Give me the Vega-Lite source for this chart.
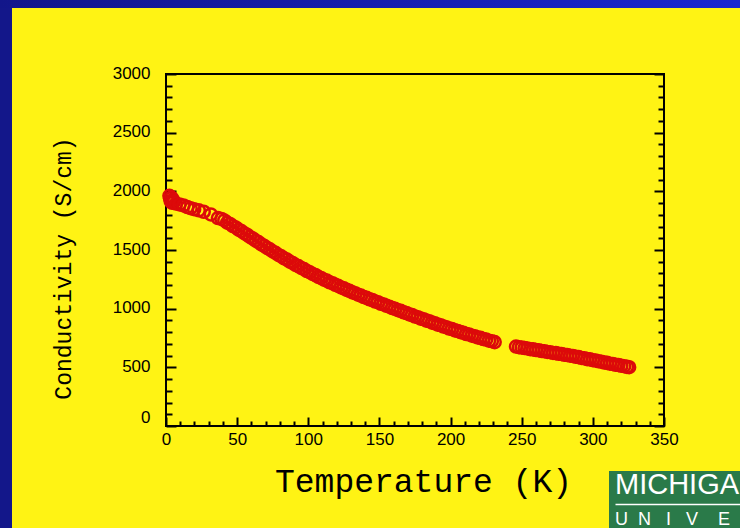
{
  "$schema": "https://vega.github.io/schema/vega-lite/v6.json",
  "background": "#fff314",
  "padding": 0,
  "autosize": {"type": "pad"},
  "config": {"view": {"stroke": null}},
  "datasets": {
    "conductivity": [
      {"T": 2.4, "sigma": 1962}, {"T": 2.9, "sigma": 1938}, {"T": 3.3, "sigma": 1915}, {"T": 3.8, "sigma": 1948},
      {"T": 4.3, "sigma": 1902}, {"T": 4.9, "sigma": 1928}, {"T": 5.6, "sigma": 1910}, {"T": 7.0, "sigma": 1896},
      {"T": 9.5, "sigma": 1888}, {"T": 12.3, "sigma": 1880}, {"T": 15.0, "sigma": 1866}, {"T": 17.3, "sigma": 1856},
      {"T": 19.8, "sigma": 1848}, {"T": 23.0, "sigma": 1838}, {"T": 26.5, "sigma": 1826}, {"T": 31.5, "sigma": 1803},
      {"T": 36.5, "sigma": 1772},
      {"T": 39, "sigma": 1765}, {"T": 41, "sigma": 1752}, {"T": 43, "sigma": 1734}, {"T": 45, "sigma": 1722},
      {"T": 47, "sigma": 1704}, {"T": 49, "sigma": 1692}, {"T": 51, "sigma": 1674}, {"T": 53, "sigma": 1661},
      {"T": 55, "sigma": 1643}, {"T": 57, "sigma": 1630}, {"T": 59, "sigma": 1611}, {"T": 61, "sigma": 1598},
      {"T": 63, "sigma": 1580}, {"T": 65, "sigma": 1567}, {"T": 67, "sigma": 1548}, {"T": 69, "sigma": 1536},
      {"T": 71, "sigma": 1518}, {"T": 73, "sigma": 1506}, {"T": 75, "sigma": 1488}, {"T": 77, "sigma": 1476},
      {"T": 79, "sigma": 1458}, {"T": 81, "sigma": 1446}, {"T": 83, "sigma": 1429}, {"T": 85, "sigma": 1418},
      {"T": 87, "sigma": 1401}, {"T": 89, "sigma": 1390}, {"T": 91, "sigma": 1373}, {"T": 93, "sigma": 1363},
      {"T": 95, "sigma": 1347}, {"T": 97, "sigma": 1337}, {"T": 99, "sigma": 1321}, {"T": 101, "sigma": 1311},
      {"T": 103, "sigma": 1296}, {"T": 105, "sigma": 1287}, {"T": 107, "sigma": 1271}, {"T": 109, "sigma": 1262},
      {"T": 111, "sigma": 1247}, {"T": 113, "sigma": 1239}, {"T": 115, "sigma": 1225}, {"T": 117, "sigma": 1217},
      {"T": 119, "sigma": 1203}, {"T": 121, "sigma": 1195}, {"T": 123, "sigma": 1181}, {"T": 125, "sigma": 1173},
      {"T": 127, "sigma": 1160}, {"T": 129, "sigma": 1152}, {"T": 131, "sigma": 1139}, {"T": 133, "sigma": 1132},
      {"T": 135, "sigma": 1119}, {"T": 137, "sigma": 1112}, {"T": 139, "sigma": 1099}, {"T": 141, "sigma": 1092},
      {"T": 143, "sigma": 1080}, {"T": 145, "sigma": 1074}, {"T": 147, "sigma": 1061}, {"T": 149, "sigma": 1055},
      {"T": 151, "sigma": 1042}, {"T": 153, "sigma": 1036}, {"T": 155, "sigma": 1024}, {"T": 157, "sigma": 1017},
      {"T": 159, "sigma": 1005}, {"T": 161, "sigma": 999}, {"T": 163, "sigma": 987}, {"T": 165, "sigma": 981},
      {"T": 167, "sigma": 969}, {"T": 169, "sigma": 963}, {"T": 171, "sigma": 951}, {"T": 173, "sigma": 945},
      {"T": 175, "sigma": 933}, {"T": 177, "sigma": 927}, {"T": 179, "sigma": 915}, {"T": 181, "sigma": 910},
      {"T": 183, "sigma": 898}, {"T": 185, "sigma": 893}, {"T": 187, "sigma": 881}, {"T": 189, "sigma": 875},
      {"T": 191, "sigma": 864}, {"T": 193, "sigma": 859}, {"T": 195, "sigma": 848}, {"T": 197, "sigma": 842},
      {"T": 199, "sigma": 831}, {"T": 201, "sigma": 826}, {"T": 203, "sigma": 815}, {"T": 205, "sigma": 810},
      {"T": 207, "sigma": 800}, {"T": 209, "sigma": 795}, {"T": 211, "sigma": 784}, {"T": 213, "sigma": 780},
      {"T": 215, "sigma": 770}, {"T": 217, "sigma": 765}, {"T": 219, "sigma": 755}, {"T": 221, "sigma": 751},
      {"T": 223, "sigma": 741}, {"T": 225, "sigma": 737}, {"T": 227, "sigma": 727}, {"T": 229, "sigma": 723},
      {"T": 231, "sigma": 715},
      {"T": 246, "sigma": 677}, {"T": 248, "sigma": 672}, {"T": 250, "sigma": 669}, {"T": 252, "sigma": 664},
      {"T": 254, "sigma": 661}, {"T": 256, "sigma": 655}, {"T": 258, "sigma": 653}, {"T": 260, "sigma": 647},
      {"T": 262, "sigma": 645}, {"T": 264, "sigma": 639}, {"T": 266, "sigma": 637}, {"T": 268, "sigma": 631},
      {"T": 270, "sigma": 629}, {"T": 272, "sigma": 623}, {"T": 274, "sigma": 621}, {"T": 276, "sigma": 615},
      {"T": 278, "sigma": 613}, {"T": 280, "sigma": 607}, {"T": 282, "sigma": 605}, {"T": 284, "sigma": 599},
      {"T": 286, "sigma": 597}, {"T": 288, "sigma": 590}, {"T": 290, "sigma": 587}, {"T": 292, "sigma": 580},
      {"T": 294, "sigma": 577}, {"T": 296, "sigma": 570}, {"T": 298, "sigma": 568}, {"T": 300, "sigma": 561},
      {"T": 302, "sigma": 558}, {"T": 304, "sigma": 551}, {"T": 306, "sigma": 548}, {"T": 308, "sigma": 541},
      {"T": 310, "sigma": 538}, {"T": 312, "sigma": 531}, {"T": 314, "sigma": 529}, {"T": 316, "sigma": 522},
      {"T": 318, "sigma": 520}, {"T": 320, "sigma": 513}, {"T": 322, "sigma": 510}, {"T": 324, "sigma": 504},
      {"T": 325.5, "sigma": 501}
    ]
  },
  "vconcat": [
    {
      "width": 740,
      "height": 8,
      "data": {"values": []},
      "mark": "point",
      "view": {
        "stroke": null,
        "fill": {
          "gradient": "linear", "x1": 0, "y1": 0, "x2": 1, "y2": 0,
          "stops": [{"offset": 0, "color": "#12168a"}, {"offset": 1, "color": "#1a27d0"}]
        }
      }
    },
    {
      "hconcat": [
        {
          "width": 12,
          "height": 520,
          "data": {"values": []},
          "mark": "point",
          "view": {"stroke": null, "fill": "#13178a"}
        },
        {
          "vconcat": [
            {"width": 498, "height": 21, "data": {"values": []}, "mark": "point"},
            {
              "width": 498,
              "height": 352,
              "data": {"name": "conductivity"},
              "view": {"stroke": "#000000", "strokeWidth": 2},
              "layer": [
                {
                  "mark": {"type": "point", "shape": "circle", "filled": false, "color": "#dc0a0a", "size": 145, "strokeWidth": 2.5, "opacity": 1},
                  "encoding": {
                    "x": {
                      "field": "T", "type": "quantitative",
                      "scale": {"domain": [0, 350], "nice": false, "zero": false},
                      "axis": {
                        "orient": "bottom",
                        "values": [0,10,20,30,40,50,60,70,80,90,100,110,120,130,140,150,160,170,180,190,200,210,220,230,240,250,260,270,280,290,300,310,320,330,340,350],
                        "labelExpr": "datum.value % 50 === 0 ? datum.label : ''",
                        "format": "d",
                        "domain": false, "grid": false,
                        "tickColor": "#000000", "tickWidth": 2,
                        "tickSize": {"condition": {"test": "datum.value % 50 === 0", "value": -9}, "value": -5},
                        "labelFont": "Liberation Sans", "labelFontSize": 17, "labelColor": "#000000",
                        "labelPadding": 14, "labelOverlap": false, "labelBound": false, "labelFlush": false,
                        "title": "Temperature (K)",
                        "titleFont": "Liberation Mono", "titleFontSize": 33, "titleFontWeight": "normal", "titleColor": "#000000",
                        "titleX": 257, "titleY": 65, "titleAlign": "center", "titleBaseline": "alphabetic"
                      }
                    },
                    "y": {
                      "field": "sigma", "type": "quantitative",
                      "scale": {"domain": [0, 3000], "nice": false},
                      "axis": {
                        "orient": "left",
                        "values": [0,100,200,300,400,500,600,700,800,900,1000,1100,1200,1300,1400,1500,1600,1700,1800,1900,2000,2100,2200,2300,2400,2500,2600,2700,2800,2900,3000],
                        "labelExpr": "datum.value % 500 === 0 ? datum.label : ''",
                        "format": "d",
                        "domain": false, "grid": false,
                        "tickColor": "#000000", "tickWidth": 2,
                        "tickSize": {"condition": {"test": "datum.value % 500 === 0", "value": -10}, "value": -6},
                        "labelFont": "Liberation Sans", "labelFontSize": 17, "labelColor": "#000000",
                        "labelPadding": 26, "labelOverlap": false, "labelBound": false, "labelFlush": false,
                        "labelOffset": {"condition": {"test": "datum.value === 0", "value": -9}, "value": -1},
                        "title": "Conductivity (S/cm)",
                        "titleFont": "Liberation Mono", "titleFontSize": 23, "titleFontWeight": "normal", "titleColor": "#000000",
                        "titleAngle": -90, "titleX": -96, "titleY": 194, "titleAlign": "center", "titleBaseline": "alphabetic"
                      }
                    }
                  }
                },
                {
                  "mark": {"type": "point", "opacity": 0},
                  "encoding": {
                    "y": {
                      "field": "sigma", "type": "quantitative",
                      "axis": {
                        "orient": "right",
                        "values": [0,100,200,300,400,500,600,700,800,900,1000,1100,1200,1300,1400,1500,1600,1700,1800,1900,2000,2100,2200,2300,2400,2500,2600,2700,2800,2900,3000],
                        "labels": false, "domain": false, "grid": false, "title": null,
                        "tickColor": "#000000", "tickWidth": 2,
                        "tickSize": {"condition": {"test": "datum.value % 500 === 0", "value": -10}, "value": -6}
                      }
                    }
                  }
                }
              ],
              "resolve": {"axis": {"y": "independent"}}
            },
            {
              "hconcat": [
                {"width": 443, "height": 57, "data": {"values": []}, "mark": "point"},
                {
                  "width": 131,
                  "height": 57,
                  "data": {"values": []},
                  "mark": "point",
                  "view": {"stroke": null, "fill": "#2a7a49"},
                  "encoding": {
                    "x": {
                      "field": "u", "type": "quantitative",
                      "scale": {"domain": [0, 1], "range": [6, 131]},
                      "axis": {"orient": "top", "offset": -33, "domain": true, "domainColor": "#ffffff", "domainWidth": 1.5, "ticks": false, "labels": false, "grid": false, "title": null}
                    }
                  },
                  "title": {
                    "text": "MICHIGA",
                    "subtitle": "U\u00a0\u00a0N\u00a0\u00a0\u00a0I\u00a0\u00a0\u00a0V\u00a0\u00a0\u00a0\u00a0E",
                    "anchor": "start", "frame": "group", "orient": "top",
                    "offset": -58, "dx": 6,
                    "font": "Liberation Sans", "fontSize": 29, "fontWeight": "normal", "color": "#ffffff",
                    "subtitleFont": "Liberation Sans", "subtitleFontSize": 18, "subtitleColor": "#ffffff",
                    "subtitlePadding": 11
                  }
                }
              ],
              "spacing": 0,
              "bounds": "flush"
            }
          ],
          "spacing": 45,
          "bounds": "flush"
        }
      ],
      "spacing": 154,
      "bounds": "flush"
    }
  ],
  "spacing": 0,
  "bounds": "flush"
}
